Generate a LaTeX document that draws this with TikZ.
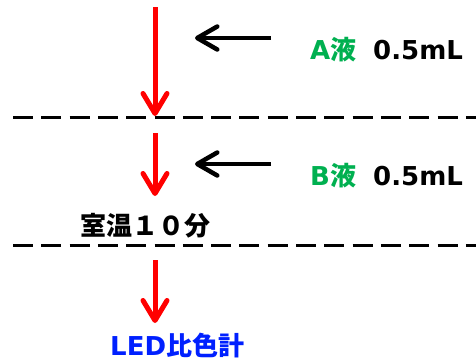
\documentclass[tikz,border=0pt]{standalone}
\usepackage{fontspec}
\setmainfont{DejaVu Sans}
\newfontfamily\cjk{Noto Sans CJK JP}
\usetikzlibrary{arrows.meta}
\definecolor{agreen}{RGB}{0,176,80}
\definecolor{lblue}{RGB}{0,32,255}
\tikzset{
  redarrow/.style={draw=red,line width=5pt,-{Straight Barb[length=20pt,width=24pt,round]}},
  blackarrow/.style={draw=black,line width=4.5pt,-{Straight Barb[length=20pt,width=23pt,round]}},
  sepline/.style={draw=black,line width=3pt,dash pattern=on 20pt off 8.3pt},
  lbl/.style={inner sep=0pt,anchor=base west,font=\fontsize{26}{30}\selectfont\bfseries}
}
\begin{document}
\begin{tikzpicture}[x=1pt,y=-1pt]
\useasboundingbox (0,0) rectangle (476,360);
% separators
\coordinate (l1s) at (13,117); \coordinate (l1e) at (476,117);
\coordinate (l2s) at (13,245); \coordinate (l2e) at (476,245);
\draw[sepline] (l1s) -- (l1e);
\draw[sepline] (l2s) -- (l2e);
% red flow arrows
\coordinate (r1s) at (155,7);   \coordinate (r1e) at (155,116);
\coordinate (r2s) at (155,133); \coordinate (r2e) at (155,196);
\coordinate (r3s) at (155,260); \coordinate (r3e) at (155,323);
\draw[redarrow] (r1s) -- (r1e);
\draw[redarrow] (r2s) -- (r2e);
\draw[redarrow] (r3s) -- (r3e);
% black addition arrows
\coordinate (b1s) at (271,38);  \coordinate (b1e) at (195,38);
\coordinate (b2s) at (271,164); \coordinate (b2e) at (195,164);
\draw[blackarrow] (b1s) -- (b1e);
\draw[blackarrow] (b2s) -- (b2e);
% labels
\node[lbl,text=agreen] (aname) at (310,59) {A{\cjk\bfseries 液}};
\node[lbl] (avol) at (373,59) {0.5mL};
\node[lbl,text=agreen] (bname) at (310,185) {B{\cjk\bfseries 液}};
\node[lbl] (bvol) at (373,185) {0.5mL};
\node[lbl] (wait) at (80,235) {{\cjk\bfseries 室温１０分}};
\node[lbl,text=lblue] (led) at (110,355) {LED{\cjk\bfseries 比色計}};
\end{tikzpicture}
\end{document}
